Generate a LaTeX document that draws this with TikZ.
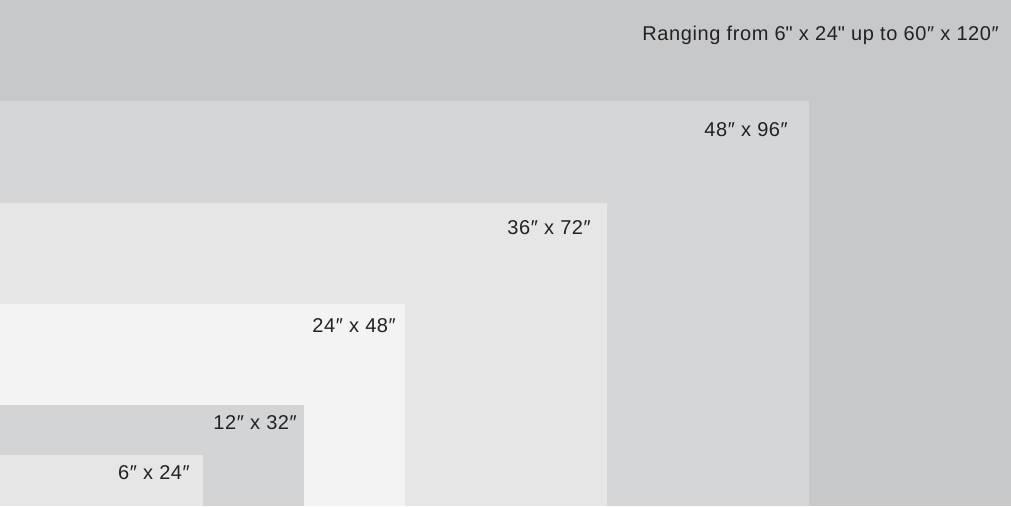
\documentclass[tikz,border=0pt]{standalone}
\usepackage{fontspec}
\setmainfont[LetterSpace=3]{Liberation Sans}
\newfontfamily\rawf[LetterSpace=3]{Liberation Sans}
\definecolor{c0}{HTML}{C7C8CA}
\definecolor{c1}{HTML}{D5D6D8}
\definecolor{c2}{HTML}{E6E6E6}
\definecolor{c3}{HTML}{F3F3F3}
\definecolor{c4}{HTML}{D3D4D6}
\definecolor{c5}{HTML}{E6E6E6}
\definecolor{txt}{HTML}{222222}
\newcommand{\sq}{{\rawf"}}
\begin{document}
\begin{tikzpicture}[x=1pt,y=-1pt,
  lbl/.style={anchor=base east,inner sep=0pt,text=txt,font=\fontsize{20}{22}\selectfont}]
\useasboundingbox (0,0) rectangle (1011,506);
\fill[c0] (0,0) rectangle (1011,506);
\fill[c1] (0,101) rectangle (809,506);
\fill[c2] (0,203) rectangle (607,506);
\fill[c3] (0,304) rectangle (405,506);
\fill[c4] (0,405) rectangle (304,506);
\fill[c5] (0,455) rectangle (203,506);
\node[lbl] (t0) at (999,40) {Ranging from 6\sq{} x 24\sq{} up to 60″ x 120″};
\node[lbl] (t1) at (788,136) {48″ x 96″};
\node[lbl] (t2) at (591,234) {36″ x 72″};
\node[lbl] (t3) at (396,332) {24″ x 48″};
\node[lbl] (t4) at (297,429) {12″ x 32″};
\node[lbl] (t5) at (190,479) {6″ x 24″};
\end{tikzpicture}
\end{document}
